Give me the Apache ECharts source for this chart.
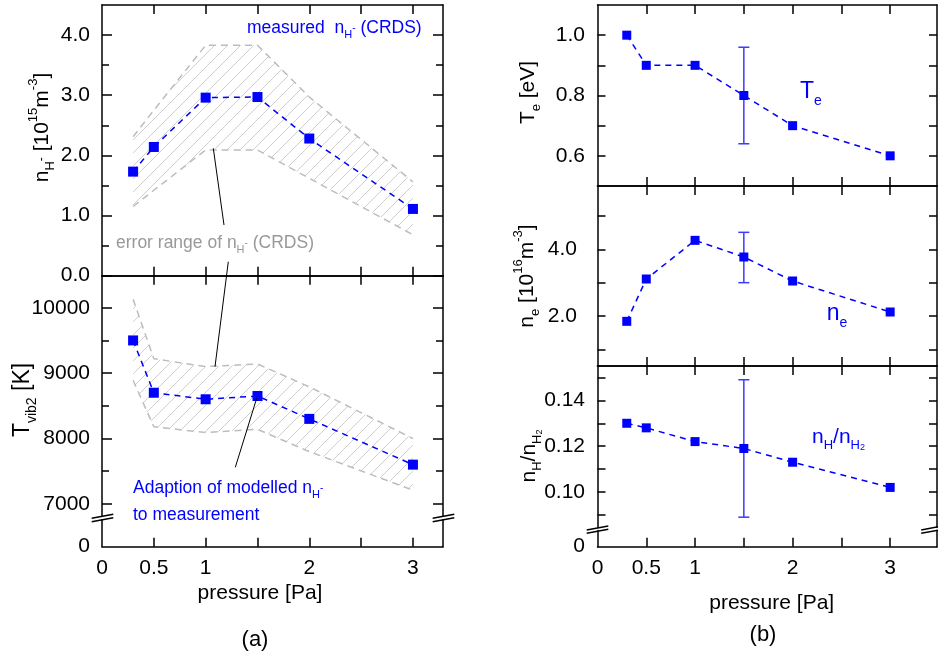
<!DOCTYPE html>
<html><head><meta charset="utf-8">
<script src="https://cdn.jsdelivr.net/npm/echarts@6.0.0/dist/echarts.min.js"></script>
<style>html,body{margin:0;padding:0;background:#fff}#c{width:938px;height:657px}</style>
</head><body><div id="c"></div><script>
// ---------------- data ----------------
const pressure = [0.3, 0.5, 1, 1.5, 2, 3];
const nHminus = [1.73, 2.14, 2.96, 2.97, 2.28, 1.11];
const nHminusUpper = [2.31, 2.75, 3.83, 3.83, 2.97, 1.56];
const nHminusLower = [1.15, 1.42, 2.09, 2.09, 1.62, 0.68];
const Tvib2 = [9500, 8700, 8600, 8650, 8300, 7600];
const Tvib2Upper = [10130, 9220, 9100, 9140, 8790, 8000];
const Tvib2Lower = [8890, 8180, 8090, 8140, 7800, 7210];
const Te = [1.0, 0.9, 0.9, 0.8, 0.7, 0.6];
const ne = [1.84, 3.11, 4.27, 3.77, 3.05, 2.12];
const nHratio = [0.130, 0.128, 0.122, 0.119, 0.113, 0.102];
const errPressure = [1.5];
const TeErr = [[0.64, 0.96]];
const neErr = [[3.0, 4.51]];
const nHratioErr = [[0.089, 0.149]];
const xTickVals = [0.5, 1, 1.5, 2, 2.5, 3];
const xLabelVals = [0, 0.5, 1, 2, 3];
const nHminusTicks = [0, 1, 2, 3, 4];
const nHminusMinor = [0.5, 1.5, 2.5, 3.5];
const TvibTicks = [7000, 8000, 9000, 10000];
const TvibMinor = [7500, 8500, 9500];
const TeTicks = [0.6, 0.7, 0.8, 0.9, 1.0];
const TeLabels = [0.6, 0.8, 1.0];
const neTicks = [1, 2, 3, 4, 5];
const neLabels = [2, 4];
const ratioTicks = [0.09, 0.10, 0.11, 0.12, 0.13, 0.14, 0.15];
const ratioLabels = [0.10, 0.12, 0.14];
const zeroLabel = [0];

// ---------------- helpers ----------------
const F = '"Liberation Sans", Arial, sans-serif';
const BLUE = '#0000ff';
const LW = 1.5;
const grids = [
  {left: 102, width: 341, top: 5, height: 270.7},
  {left: 102, width: 341, top: 275.7, height: 240.6},
  {left: 102, width: 341, top: 519.7, height: 27},
  {left: 597.5, width: 339.5, top: 5, height: 181},
  {left: 597.5, width: 339.5, top: 186, height: 180},
  {left: 597.5, width: 339.5, top: 366, height: 161.5},
  {left: 597.5, width: 339.5, top: 530.5, height: 16.2}
].map(g => Object.assign({show: false, containLabel: false, outerBoundsMode: 'none'}, g));
const XMAX = [3.29, 3.29, 3.29, 3.48, 3.48, 3.48, 3.48];

const xAxes = [], yAxes = [];
function addX(g, pos, line, ticks, labels) {
  xAxes.push({
    type: 'value', gridIndex: g, position: pos, min: 0, max: XMAX[g],
    splitLine: {show: false},
    axisLine: {show: line, onZero: false, lineStyle: {color: '#000', width: LW}},
    axisTick: ticks ? {show: true, inside: true, length: 9, customValues: xTickVals, lineStyle: {color: '#000', width: LW}} : {show: false},
    axisLabel: labels ? {show: true, customValues: xLabelVals, margin: 11, color: '#000', fontSize: 21, fontFamily: F, formatter: v => String(v)} : {show: false}
  });
  return xAxes.length - 1;
}
function addY(g, pos, min, max, o) {
  yAxes.push({
    type: 'value', gridIndex: g, position: pos, min: min, max: max,
    splitLine: {show: false},
    axisLine: {show: !!o.line, onZero: false, lineStyle: {color: '#000', width: LW}},
    axisTick: o.ticks ? {show: true, inside: true, length: o.len, customValues: o.ticks, lineStyle: {color: '#000', width: LW}} : {show: false},
    axisLabel: o.labels ? {show: true, customValues: o.labels, margin: o.margin, color: '#000', fontSize: 21, fontFamily: F, formatter: o.fmt} : {show: false}
  });
  return yAxes.length - 1;
}
// x axes
const X = [];
X[0] = addX(0, 'bottom', true, true, false); addX(0, 'top', true, true, false);
X[1] = addX(1, 'bottom', false, false, false); addX(1, 'top', true, true, false);
X[2] = addX(2, 'bottom', true, true, true);
X[3] = addX(3, 'bottom', true, true, false); addX(3, 'top', true, true, false);
X[4] = addX(4, 'bottom', true, true, false); addX(4, 'top', true, true, false);
X[5] = addX(5, 'bottom', false, false, false); addX(5, 'top', true, true, false);
X[6] = addX(6, 'bottom', true, true, true);
// y axes
const f1 = v => v.toFixed(1), f2 = v => v.toFixed(2), f0 = v => String(v);
const Y = [];
Y[0] = addY(0, 'left', 0, 4.5, {line: true, ticks: nHminusTicks, len: 10, labels: nHminusTicks, margin: 12, fmt: f1});
addY(0, 'left', 0, 4.5, {ticks: nHminusMinor, len: 7});
addY(0, 'right', 0, 4.5, {line: true, ticks: nHminusTicks, len: 10});
addY(0, 'right', 0, 4.5, {ticks: nHminusMinor, len: 7});
Y[1] = addY(1, 'left', 6810, 10490, {line: true, ticks: TvibTicks, len: 10, labels: TvibTicks, margin: 12, fmt: f0});
addY(1, 'left', 6810, 10490, {ticks: TvibMinor, len: 7});
addY(1, 'right', 6810, 10490, {line: true, ticks: TvibTicks, len: 10});
addY(1, 'right', 6810, 10490, {ticks: TvibMinor, len: 7});
Y[2] = addY(2, 'left', 0, 1, {line: true, labels: zeroLabel, margin: 12, fmt: f0});
addY(2, 'right', 0, 1, {line: true});
Y[3] = addY(3, 'left', 0.5, 1.1, {line: true, ticks: TeTicks, len: 8, labels: TeLabels, margin: 12.5, fmt: f1});
addY(3, 'right', 0.5, 1.1, {line: true, ticks: TeTicks, len: 8});
Y[4] = addY(4, 'left', 0.5, 5.9, {line: true, ticks: neTicks, len: 8, labels: neLabels, margin: 20.5, fmt: f1});
addY(4, 'right', 0.5, 5.9, {line: true, ticks: neTicks, len: 8});
Y[5] = addY(5, 'left', 0.0845, 0.155, {line: true, ticks: ratioTicks, len: 8, labels: ratioLabels, margin: 12.5, fmt: f2});
addY(5, 'right', 0.0845, 0.155, {line: true, ticks: ratioTicks, len: 8});
Y[6] = addY(6, 'left', 0, 1, {line: true, labels: zeroLabel, margin: 12.5, fmt: f0});
addY(6, 'right', 0, 1, {line: true});

// hatch pattern
const hc = document.createElement('canvas'); hc.width = 13; hc.height = 13;
const hctx = hc.getContext('2d');
hctx.strokeStyle = '#cfcfcf'; hctx.lineWidth = 1;
hctx.beginPath();
hctx.moveTo(-1, 14); hctx.lineTo(14, -1);
hctx.moveTo(-7.5, 7.5); hctx.lineTo(7.5, -7.5);
hctx.moveTo(5.5, 20.5); hctx.lineTo(20.5, 5.5);
hctx.stroke();
const hatch = {image: hc, repeat: 'repeat'};

const pairs = arr => pressure.map((p, i) => [p, arr[i]]);
function band(g, lower, upper) {
  return {
    type: 'custom', xAxisIndex: X[g], yAxisIndex: Y[g], silent: true, z: 1, clip: false,
    data: [[pressure[0], lower[0]]],
    renderItem: function (params, api) {
      const pts = [];
      for (let i = 0; i < pressure.length; i++) pts.push(api.coord([pressure[i], upper[i]]));
      for (let i = pressure.length - 1; i >= 0; i--) pts.push(api.coord([pressure[i], lower[i]]));
      return {type: 'polygon', shape: {points: pts}, style: {fill: hatch, stroke: null}};
    }
  };
}
function bound(g, arr) {
  return {type: 'line', xAxisIndex: X[g], yAxisIndex: Y[g], data: pairs(arr), showSymbol: false, symbol: 'none', silent: true, z: 2,
    lineStyle: {color: '#bdbdbd', width: 1.5, type: [7, 5]}};
}
function meas(g, arr, size) {
  return {type: 'line', xAxisIndex: X[g], yAxisIndex: Y[g], data: pairs(arr), symbol: 'rect', symbolSize: size, z: 4,
    itemStyle: {color: BLUE}, lineStyle: {color: BLUE, width: 1.5, type: [6, 5]}};
}
function errbar(g, errs) {
  return {
    type: 'custom', xAxisIndex: X[g], yAxisIndex: Y[g], z: 3,
    data: errPressure.map((p, i) => [p, errs[i][0], errs[i][1]]),
    encode: {x: 0, y: [1, 2]},
    renderItem: function (params, api) {
      const lo = api.coord([api.value(0), api.value(1)]);
      const hi = api.coord([api.value(0), api.value(2)]);
      const w = 5.5, st = {stroke: '#3c3cff', lineWidth: 1.5};
      return {type: 'group', children: [
        {type: 'line', shape: {x1: lo[0], y1: lo[1], x2: hi[0], y2: hi[1]}, style: st},
        {type: 'line', shape: {x1: lo[0] - w, y1: lo[1], x2: lo[0] + w, y2: lo[1]}, style: st},
        {type: 'line', shape: {x1: hi[0] - w, y1: hi[1], x2: hi[0] + w, y2: hi[1]}, style: st}
      ]};
    }
  };
}

function rich(S, lh) {
  const sub = Math.round(S * 0.6);
  return {
    m: {fontSize: S, fontFamily: F, lineHeight: lh},
    s: {fontSize: sub, fontFamily: F, lineHeight: sub, verticalAlign: 'bottom'},
    ss: {fontSize: Math.round(S * 0.42), fontFamily: F, lineHeight: Math.round(S * 0.42), verticalAlign: 'bottom'},
    p: {fontSize: Math.round(S * 0.55), fontFamily: F, lineHeight: Math.round(S * 0.55), verticalAlign: 'middle'},
    u: {fontSize: sub, fontFamily: F, lineHeight: sub, verticalAlign: 'top'}
  };
}
function txt(x, y, text, S, color, align, rot) {
  return {
    type: 'text', x: x, y: y, rotation: rot || 0, silent: true, z: 10,
    style: {text: text, rich: rich(S, Math.round(S * 1.42)), fill: color, fontSize: S, fontFamily: F,
      textAlign: align, align: align, textVerticalAlign: 'middle', verticalAlign: 'middle'}
  };
}
function seg(x1, y1, x2, y2, w) {
  return {type: 'line', silent: true, z: 10, shape: {x1, y1, x2, y2}, style: {stroke: '#000', lineWidth: w || 1}};
}
function brk(xc, yc) {
  return [seg(xc - 10.8, yc + 2, xc + 10.8, yc - 2, 1.5), seg(xc - 10.8, yc + 5.4, xc + 10.8, yc + 1.4, 1.5)];
}
const R = Math.PI / 2;
const graphics = [
  txt(260, 593, '{m|pressure [Pa]}', 21, '#000', 'center'),
  txt(771.7, 603, '{m|pressure [Pa]}', 21, '#000', 'center'),
  txt(255, 640, '{m|(a)}', 22, '#000', 'center'),
  txt(763, 635, '{m|(b)}', 22, '#000', 'center'),
  txt(247, 28, '{m|measured  n}{s|H}{p|-}{m| (CRDS)}', 17.5, BLUE, 'left'),
  txt(116, 243, '{m|error range of n}{s|H}{p|-}{m| (CRDS)}', 17.5, '#999999', 'left'),
  txt(133, 488, '{m|Adaption of modelled n}{s|H}{p|-}', 17.5, BLUE, 'left'),
  txt(133, 515, '{m|to measurement}', 17.5, BLUE, 'left'),
  txt(800, 92, '{m|T}{s|e}', 23, BLUE, 'left'),
  txt(826.7, 314, '{m|n}{s|e}', 23, BLUE, 'left'),
  txt(812, 437, '{m|n}{s|H}{m|/n}{s|H}{ss|2}', 21, BLUE, 'left'),
  txt(42, 127.5, '{m|n}{s|H}{p|-}{m| [10}{u|15}{m|m}{u|-3}{m|]}', 21, '#000', 'center', R),
  txt(23, 400, '{m|T}{s|vib2}{m| [K]}', 23, '#000', 'center', R),
  txt(528, 92.5, '{m|T}{s|e}{m| [eV]}', 21, '#000', 'center', R),
  txt(527, 276, '{m|n}{s|e}{m| [10}{u|16}{m|m}{u|-3}{m|]}', 21, '#000', 'center', R),
  txt(529, 456, '{m|n}{s|H}{m|/n}{s|H}{ss|2}', 21, '#000', 'center', R),
  seg(213.3, 148.3, 224, 225),
  seg(228.3, 261.7, 215, 366.7),
  seg(256.7, 398.3, 235.3, 467.3)
].concat(brk(102.5, 516.3), brk(443.5, 516.3), brk(597.5, 527.9), brk(932, 527.9));

const chart = echarts.init(document.getElementById('c'), null, {renderer: 'canvas'});
chart.setOption({
  animation: false,
  backgroundColor: '#fff',
  grid: grids,
  xAxis: xAxes,
  yAxis: yAxes,
  series: [
    band(0, nHminusLower, nHminusUpper), bound(0, nHminusUpper), bound(0, nHminusLower), meas(0, nHminus, 10),
    band(1, Tvib2Lower, Tvib2Upper), bound(1, Tvib2Upper), bound(1, Tvib2Lower), meas(1, Tvib2, 10),
    meas(3, Te, 9), errbar(3, TeErr),
    meas(4, ne, 9), errbar(4, neErr),
    meas(5, nHratio, 9), errbar(5, nHratioErr)
  ],
  graphic: graphics
});
</script></body></html>
